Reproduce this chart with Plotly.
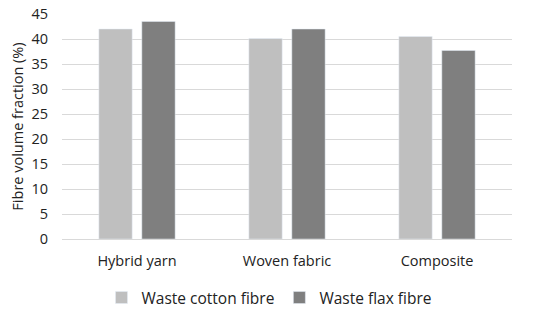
import plotly.graph_objects as go

categories = ["Hybrid yarn", "Woven fabric", "Composite"]
cotton = [42.0, 40.1, 40.5]
flax = [43.5, 42.0, 37.7]
yticks = [0, 5, 10, 15, 20, 25, 30, 35, 40, 45]

font = dict(family="Open Sans", size=14.5, color="#222222")

fig = go.Figure()
fig.add_trace(go.Bar(x=categories, y=cotton, name="Waste cotton fibre",
                     marker=dict(color="#bfbfbf")))
fig.add_trace(go.Bar(x=categories, y=flax, name="Waste flax fibre",
                     marker=dict(color="#7f7f7f")))

fig.update_layout(
    width=550, height=313,
    margin=dict(l=62, r=38, t=14, b=74, autoexpand=False),
    paper_bgcolor="white", plot_bgcolor="white",
    font=font,
    barmode="group", bargap=0.427, bargroupgap=0.225,
    showlegend=True,
    legend=dict(orientation="h", x=0.46, xanchor="center", y=-0.262, yanchor="middle",
                font=dict(family="Open Sans", size=15.5, color="#222222"),
                itemwidth=30, traceorder="normal"),
)
fig.update_xaxes(showline=False, ticks="", tickfont=font, ticklabelstandoff=11)
fig.update_yaxes(range=[0, 45], tickvals=yticks, showgrid=True, gridcolor="#d9d9d9",
                 gridwidth=1, zeroline=True, zerolinecolor="#d9d9d9", zerolinewidth=1,
                 tickfont=font, ticklabelstandoff=13,
                 title=dict(text="Fibre volume fraction (%)", font=dict(family="Open Sans", size=14.5, color="#222222"), standoff=4))

fig.write_html("out.html", config={"displayModeBar": False},
               post_script="document.body.style.margin='0';")
